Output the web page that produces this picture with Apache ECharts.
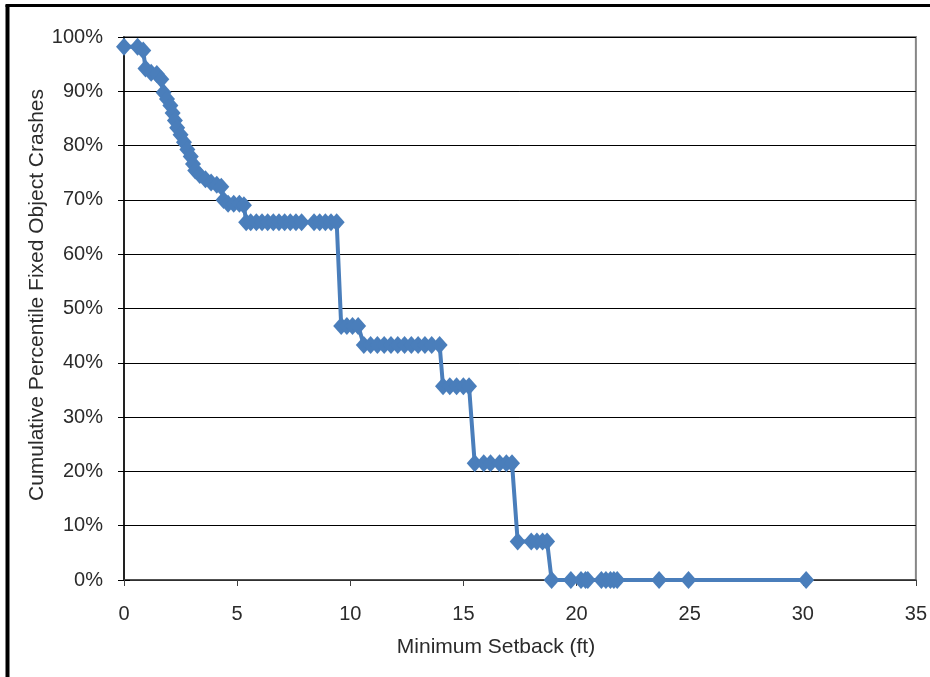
<!DOCTYPE html>
<html><head><meta charset="utf-8">
<script src="https://cdn.jsdelivr.net/npm/echarts@6/dist/echarts.min.js"></script>
<style>html,body{margin:0;padding:0;background:#fff}#c{width:930px;height:677px}</style>
</head><body><div id="c"></div>
<script>
const setbackFt = [
  0, 0.6, 0.85, 0.95, 1.2, 1.45, 1.65, 1.75, 1.9, 2.05, 2.15, 2.25, 2.35, 2.5, 2.65, 2.8, 2.95, 3.05, 3.15, 3.35, 3.6, 3.85, 4.1, 4.3,
  4.4, 4.6, 4.85, 5.1, 5.3,
  5.4, 5.6, 5.85, 6.1, 6.35, 6.6, 6.85, 7.1, 7.35, 7.6, 7.85, 8.4, 8.65, 8.9, 9.15, 9.4,
  9.6, 9.85, 10.1, 10.35,
  10.6, 10.9, 11.2, 11.5, 11.8, 12.1, 12.4, 12.7, 13.0, 13.3, 13.6, 13.95,
  14.1, 14.4, 14.7, 15.0, 15.25,
  15.5, 15.9, 16.2, 16.6, 16.9, 17.15,
  17.4, 18.0, 18.25, 18.5, 18.7,
  18.9, 19.75, 20.2, 20.4, 20.5, 21.1, 21.3, 21.5, 21.65, 21.8, 23.65, 24.95, 30.15
];
const cumulativePct = [
  98.2, 98.2, 97.5, 94.2, 93.4, 93.2, 92.2, 89.8, 88.6, 87.4, 86.0, 84.6, 83.3, 82.0, 80.6, 79.3, 78.0, 76.6, 75.4, 74.6, 73.8, 73.2, 72.8, 72.4,
  70.0, 69.3, 69.3, 69.3, 69.0,
  65.9, 65.9, 65.9, 65.9, 65.9, 65.9, 65.9, 65.9, 65.9, 65.9, 65.9, 65.9, 65.9, 65.9, 65.9, 65.9,
  46.8, 46.8, 46.8, 46.8,
  43.3, 43.3, 43.3, 43.3, 43.3, 43.3, 43.3, 43.3, 43.3, 43.3, 43.3, 43.3,
  35.7, 35.7, 35.7, 35.7, 35.7,
  21.5, 21.5, 21.5, 21.5, 21.5, 21.5,
  7.1, 7.1, 7.1, 7.1, 7.1,
  0, 0, 0, 0, 0, 0, 0, 0, 0, 0, 0, 0, 0
];
const xTitle = 'Minimum Setback (ft)';
const yTitle = 'Cumulative Percentile Fixed Object Crashes';

const points = setbackFt.map((x, i) => [x, cumulativePct[i]]);
const FONT = "'Liberation Sans', Arial, sans-serif";
const TXT = '#2b2b2b';
const chart = echarts.init(document.getElementById('c'), null, {renderer: 'canvas'});
chart.setOption({
  animation: false,
  backgroundColor: '#fff',
  grid: {left: 124, top: 37, right: 11, bottom: 97, show: true, borderColor: '#868686', borderWidth: 2, backgroundColor: 'transparent'},
  xAxis: {
    type: 'value', min: 0, max: 35, interval: 5,
    axisLine: {show: true, onZero: false, lineStyle: {color: '#404040', width: 1.5}},
    axisTick: {show: true, length: 6, lineStyle: {color: '#404040'}},
    axisLabel: {color: TXT, fontFamily: FONT, fontSize: 20, margin: 24},
    splitLine: {show: false}
  },
  yAxis: [{
    type: 'value', min: 0, max: 100, interval: 10,
    axisLine: {show: true, lineStyle: {color: '#000', width: 1.5}},
    axisTick: {show: true, length: 6, lineStyle: {color: '#000'}},
    axisLabel: {color: TXT, fontFamily: FONT, fontSize: 20, margin: 21, formatter: '{value}%'},
    splitLine: {show: true, lineStyle: {color: '#000', width: 1}}
  }, {
    type: 'value', min: 0, max: 100, interval: 10, position: 'left',
    axisLine: {show: false},
    axisTick: {show: true, inside: true, length: 6, lineStyle: {color: '#000'}},
    axisLabel: {show: false},
    splitLine: {show: false}
  }],
  graphic: [
    {type: 'line', shape: {x1: 7.5, y1: 5, x2: 7.5, y2: 677}, style: {stroke: '#000', lineWidth: 4}},
    {type: 'line', shape: {x1: 5.5, y1: 5.5, x2: 930, y2: 5.5}, style: {stroke: '#000', lineWidth: 3}},
    {type: 'text', x: 496, y: 647, style: {text: xTitle, font: '21px ' + FONT, fill: TXT, textAlign: 'center', textVerticalAlign: 'middle'}},
    {type: 'text', x: 37, y: 295, rotation: Math.PI / 2, style: {text: yTitle, font: '21px ' + FONT, fill: TXT, textAlign: 'center', textVerticalAlign: 'middle'}}
  ],
  series: [{
    type: 'line',
    data: points,
    symbol: 'diamond',
    symbolSize: [16, 18],
    showAllSymbol: true,
    lineStyle: {color: '#4A7EBB', width: 4},
    itemStyle: {color: '#4A7EBB', borderWidth: 0},
    z: 5
  }]
});
</script></body></html>
